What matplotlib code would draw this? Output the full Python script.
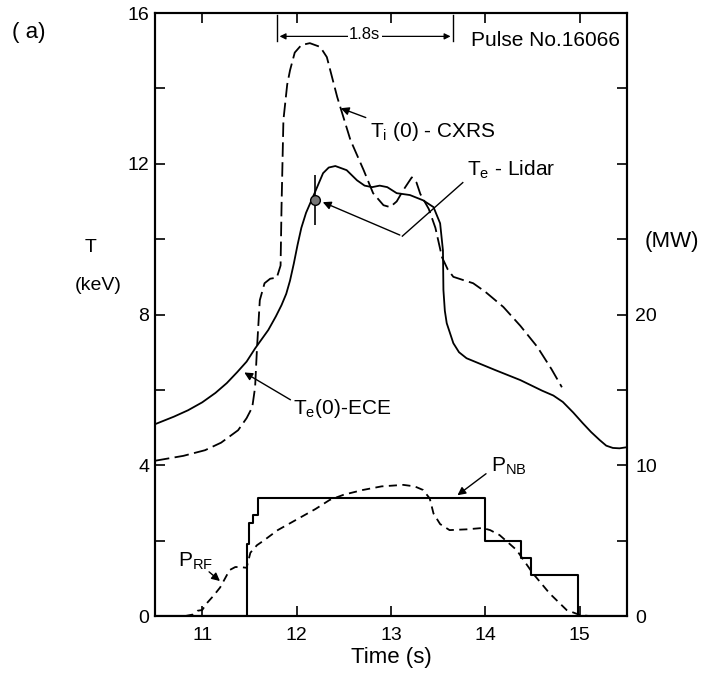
import matplotlib
matplotlib.use("Agg")
import matplotlib.pyplot as plt
import numpy as np

plt.rcParams["font.family"] = ["Liberation Sans", "DejaVu Sans"]
plt.rcParams["mathtext.fontset"] = "custom"
plt.rcParams["mathtext.rm"] = "Liberation Sans"
plt.rcParams["mathtext.it"] = "Liberation Sans"

# Te(0) from ECE (keV)
ece_t = [10.5, 10.7, 10.85, 11.0, 11.14, 11.26, 11.37, 11.47, 11.56, 11.7,
         11.78, 11.84, 11.89, 11.93, 11.97, 12.01, 12.05, 12.1, 12.19, 12.28,
         12.34, 12.41, 12.53, 12.64, 12.72, 12.8, 12.88, 12.96, 13.06, 13.2,
         13.34, 13.45, 13.52, 13.55, 13.555, 13.57, 13.59, 13.66, 13.72, 13.8,
         14.1, 14.37, 14.6, 14.72, 14.82, 14.93, 15.03, 15.12, 15.21, 15.28,
         15.35, 15.42, 15.5]
ece_te = [5.09, 5.29, 5.46, 5.67, 5.92, 6.18, 6.47, 6.75, 7.1, 7.59,
          7.95, 8.25, 8.55, 8.9, 9.35, 9.85, 10.3, 10.7, 11.22, 11.75,
          11.9, 11.94, 11.83, 11.56, 11.42, 11.38, 11.42, 11.38, 11.22, 11.17,
          11.03, 10.85, 10.42, 9.7, 8.65, 8.1, 7.77, 7.24, 7.0, 6.84,
          6.53, 6.26, 5.98, 5.85, 5.68, 5.4, 5.12, 4.88, 4.67, 4.52,
          4.46, 4.45, 4.48]

# Ti(0) from CXRS (keV)
cxrs_t = [10.5, 10.8, 11.03, 11.2, 11.38, 11.47, 11.53, 11.56, 11.58, 11.61,
          11.66, 11.72, 11.79, 11.83, 11.84, 11.86, 11.9, 11.93, 11.98, 12.05,
          12.14, 12.25, 12.32, 12.43, 12.57, 12.71, 12.81, 12.92, 12.99, 13.06,
          13.13, 13.22, 13.27, 13.31, 13.4, 13.47, 13.54, 13.6, 13.66, 13.77,
          13.87, 14.0, 14.19, 14.37, 14.55, 14.7, 14.81]
cxrs_ti = [4.12, 4.25, 4.4, 4.6, 4.93, 5.25, 5.54, 6.07, 7.1, 8.38,
           8.83, 8.95, 8.98, 9.3, 10.85, 13.16, 14.1, 14.48, 14.95, 15.15,
           15.2, 15.1, 14.83, 13.77, 12.63, 11.83, 11.22, 10.9, 10.85, 11.0,
           11.3, 11.64, 11.5, 11.2, 10.8, 10.3, 9.52, 9.2, 9.0, 8.91,
           8.83, 8.6, 8.2, 7.7, 7.14, 6.55, 6.07]

# Te from Lidar (keV)
lidar_t = [12.19]
lidar_te = [11.04]
lidar_err = [0.67]

# neutral beam power (MW), stepwise
nb_t = [10.5, 11.47, 11.5, 11.54, 11.59, 14.0, 14.38, 14.48, 14.98, 15.5]
nb_p = [0.0, 4.8, 6.2, 6.7, 7.8, 5.0, 3.85, 2.74, 0.0, 0.0]

# RF power (MW)
rf_t = [10.82, 10.9, 10.95, 11.0, 11.05, 11.12, 11.19, 11.29, 11.35, 11.4,
        11.47, 11.51, 11.58, 11.65, 11.8, 12.0, 12.2, 12.35, 12.5, 12.7,
        12.9, 13.13, 13.25, 13.34, 13.41, 13.45, 13.52, 13.62, 13.8, 13.97,
        14.05, 14.15, 14.33, 14.5, 14.68, 14.86, 15.0, 15.1]
rf_p = [0.0, 0.1, 0.35, 0.4, 0.86, 1.35, 1.9, 3.05, 3.25, 3.25,
        3.2, 4.2, 4.7, 5.0, 5.7, 6.4, 7.1, 7.7, 8.05, 8.36,
        8.6, 8.7, 8.6, 8.36, 7.8, 6.8, 6.1, 5.7, 5.75, 5.84,
        5.7, 5.37, 4.38, 2.85, 1.5, 0.4, 0.07, 0.0]

x_ticks = [11, 12, 13, 14, 15]
t_ticks = [0, 4, 8, 12, 16]
p_ticks = [0, 10, 20]

fig = plt.figure(figsize=(7.05, 6.81), dpi=100)
ax = fig.add_axes([0.2199, 0.0954, 0.6695, 0.8855])
ax2 = ax.twinx()

lw = 1.3
ax.plot(ece_t, ece_te, color="black", lw=lw)
ax.plot(cxrs_t, cxrs_ti, color="black", lw=lw, dashes=(8, 3))
ax.errorbar(lidar_t, lidar_te, yerr=lidar_err, fmt="o", ms=7, mfc="#777777",
            mec="black", ecolor="black", elinewidth=1.2, capsize=0, zorder=5)

ax2.plot(nb_t, nb_p, color="black", lw=lw + 0.2, drawstyle="steps-post")
ax2.plot(rf_t, rf_p, color="black", lw=lw, dashes=(4.5, 3))

ax.set_xlim(10.5, 15.5)
ax.set_ylim(0, 16)
ax2.set_ylim(0, 40)

ax.set_xticks(x_ticks)
ax.set_yticks(t_ticks)
ax.set_yticks([2, 6, 10, 14], minor=True)
ax2.set_yticks(p_ticks)
ax2.set_yticks([5, 15, 25, 30, 35], minor=True)

ax.tick_params(axis="both", which="both", direction="in", length=7, width=1.2,
               labelsize=14, top=True)
ax.tick_params(axis="x", pad=8)
ax.tick_params(axis="y", pad=4)
ax2.tick_params(axis="y", which="both", direction="in", length=7, width=1.2,
                labelsize=14, pad=6)

for a in (ax, ax2):
    for s in a.spines.values():
        s.set_linewidth(1.5)

ax.set_xlabel("Time (s)", fontsize=16, labelpad=2)

fs = 15
ax.annotate("", xy=(12.44, 13.5), xytext=(12.76, 13.2),
            arrowprops=dict(arrowstyle="-|>", color="black", lw=1.0, mutation_scale=12))
ax.text(12.78, 12.85, r"T$_{\rm i}$ (0) - CXRS", fontsize=fs, va="center", ha="left")

ax.plot([13.76, 13.12], [11.5, 10.08], color="black", lw=1.0)
ax.annotate("", xy=(12.25, 11.01), xytext=(13.12, 10.08),
            arrowprops=dict(arrowstyle="-|>", color="black", lw=1.0, mutation_scale=12))
ax.text(13.8, 11.83, r"T$_{\rm e}$ - Lidar", fontsize=fs, va="center", ha="left")

ax.annotate("", xy=(11.42, 6.5), xytext=(11.96, 5.7),
            arrowprops=dict(arrowstyle="-|>", color="black", lw=1.0, mutation_scale=12))
ax.text(11.96, 5.5, r"T$_{\rm e}$(0)-ECE", fontsize=fs, va="center", ha="left")

ax2.annotate("", xy=(11.21, 2.2), xytext=(11.05, 3.05),
             arrowprops=dict(arrowstyle="-|>", color="black", lw=1.0, mutation_scale=12))
ax2.text(10.74, 3.6, r"P$_{\rm RF}$", fontsize=fs, va="center", ha="left")

ax2.annotate("", xy=(13.68, 7.9), xytext=(14.03, 9.55),
             arrowprops=dict(arrowstyle="-|>", color="black", lw=1.0, mutation_scale=12))
ax2.text(14.06, 9.95, r"P$_{\rm NB}$", fontsize=fs, va="center", ha="left")

# 1.8 s interval marker
ax.plot([11.79, 11.79], [15.25, 15.95], color="black", lw=1.0)
ax.plot([13.66, 13.66], [15.25, 15.95], color="black", lw=1.0)
ax.annotate("", xy=(11.79, 15.38), xytext=(13.66, 15.38),
            arrowprops=dict(arrowstyle="<|-|>", color="black", lw=0.9, mutation_scale=9))
ax.text(12.72, 15.42, "1.8s", fontsize=12, ha="center", va="center",
        bbox=dict(facecolor="white", edgecolor="none", pad=1))

ax.text(15.43, 15.28, "Pulse No.16066", fontsize=fs, ha="right", va="center")

fig.text(0.128, 0.636, "T", fontsize=14, ha="center", va="center")
fig.text(0.139, 0.581, "(keV)", fontsize=14, ha="center", va="center")
fig.text(0.953, 0.645, "(MW)", fontsize=16, ha="center", va="center")
fig.text(0.041, 0.953, "( a)", fontsize=16, ha="center", va="center")

fig.savefig("out.png", dpi=100)
